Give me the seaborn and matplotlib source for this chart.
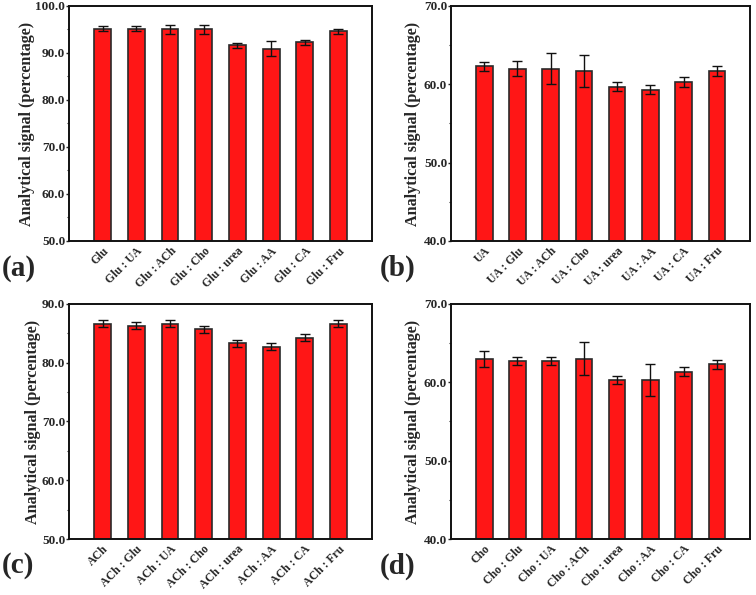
import matplotlib
matplotlib.use("Agg")
import matplotlib.pyplot as plt
import seaborn as sns
import pandas as pd
from matplotlib.ticker import MultipleLocator, FormatStrFormatter

sns.set_style("ticks")
plt.rcParams['font.family'] = ['Liberation Serif', 'DejaVu Serif']
plt.rcParams['font.weight'] = 'bold'

labels_a = ["Glu", "Glu : UA", "Glu : ACh", "Glu : Cho", "Glu : urea", "Glu : AA", "Glu : CA", "Glu : Fru"]
vals_a = [95.2, 95.2, 95.0, 95.0, 91.6, 90.9, 92.3, 94.6]
errs_a = [0.6, 0.6, 1.05, 1.0, 0.55, 1.55, 0.55, 0.55]

labels_b = ["UA", "UA : Glu", "UA : ACh", "UA : Cho", "UA : urea", "UA : AA", "UA : CA", "UA : Fru"]
vals_b = [62.3, 62.0, 62.0, 61.7, 59.7, 59.3, 60.3, 61.7]
errs_b = [0.6, 1.0, 2.0, 2.1, 0.6, 0.6, 0.6, 0.6]

labels_c = ["ACh", "ACh : Glu", "ACh : UA", "ACh : Cho", "ACh : urea", "ACh : AA", "ACh : CA", "ACh : Fru"]
vals_c = [86.6, 86.3, 86.6, 85.7, 83.3, 82.7, 84.25, 86.6]
errs_c = [0.6, 0.6, 0.6, 0.6, 0.6, 0.6, 0.6, 0.6]

labels_d = ["Cho", "Cho : Glu", "Cho : UA", "Cho : ACh", "Cho : urea", "Cho : AA", "Cho : CA", "Cho : Fru"]
vals_d = [63.0, 62.7, 62.7, 63.0, 60.3, 60.3, 61.35, 62.3]
errs_d = [1.0, 0.5, 0.5, 2.1, 0.55, 2.05, 0.55, 0.6]

panels = [
    ("(a)", labels_a, vals_a, errs_a, (50, 100), [0.0913, 0.595, 0.401, 0.395], (0.002, 0.549), 0.5),
    ("(b)", labels_b, vals_b, errs_b, (40, 70), [0.5966, 0.595, 0.3955, 0.395], (0.502, 0.549), 2.0),
    ("(c)", labels_c, vals_c, errs_c, (50, 90), [0.0913, 0.0941, 0.401, 0.395], (0.002, 0.050), 0.5),
    ("(d)", labels_d, vals_d, errs_d, (40, 70), [0.5966, 0.0941, 0.3955, 0.395], (0.502, 0.048), 2.0),
]

fig = plt.figure(figsize=(7.56, 5.95), dpi=100)

for tag, labs, vals, errs, ylim, rect, tagpos, lpad in panels:
    ax = fig.add_axes(rect)
    df = pd.DataFrame({"label": labs, "value": vals, "err": errs})
    sns.barplot(data=df, x="label", y="value", ax=ax, color="#FF1616",
                saturation=1, width=0.5, edgecolor="#2a2a2a", linewidth=1.2,
                errorbar=None)
    ax.errorbar(range(len(labs)), df["value"], yerr=df["err"], fmt="none",
                ecolor="#111111", elinewidth=1.0, capsize=3.5, capthick=1.0)
    ax.set_ylim(*ylim)
    ax.set_xlim(-1, len(labs))
    ax.yaxis.set_major_locator(MultipleLocator(10))
    ax.yaxis.set_minor_locator(MultipleLocator(5))
    ax.yaxis.set_major_formatter(FormatStrFormatter("%.1f"))
    ax.tick_params(axis="y", which="major", direction="out", length=2, width=1.0,
                   labelsize=9.5, pad=0.8)
    ax.tick_params(axis="y", which="minor", direction="out", length=1.5, width=0.8)
    ax.tick_params(axis="x", length=0, labelsize=8.5, pad=3)
    ax.set_xticks(range(len(labs)))
    ax.set_xticklabels(labs, rotation=45, ha="right", rotation_mode="anchor",
                       fontweight="bold")
    for t in ax.get_yticklabels():
        t.set_fontweight("bold")
    ax.set_xlabel("")
    ax.set_ylabel("Analytical signal (percentage)", fontsize=11.6, fontweight="bold",
                  labelpad=lpad)
    for sp in ax.spines.values():
        sp.set_visible(True)
        sp.set_linewidth(1.4)
        sp.set_color("#111111")
    fig.text(tagpos[0], tagpos[1], tag, fontsize=21, fontweight="bold",
             ha="left", va="center")

fig.savefig("out.png", dpi=100)
